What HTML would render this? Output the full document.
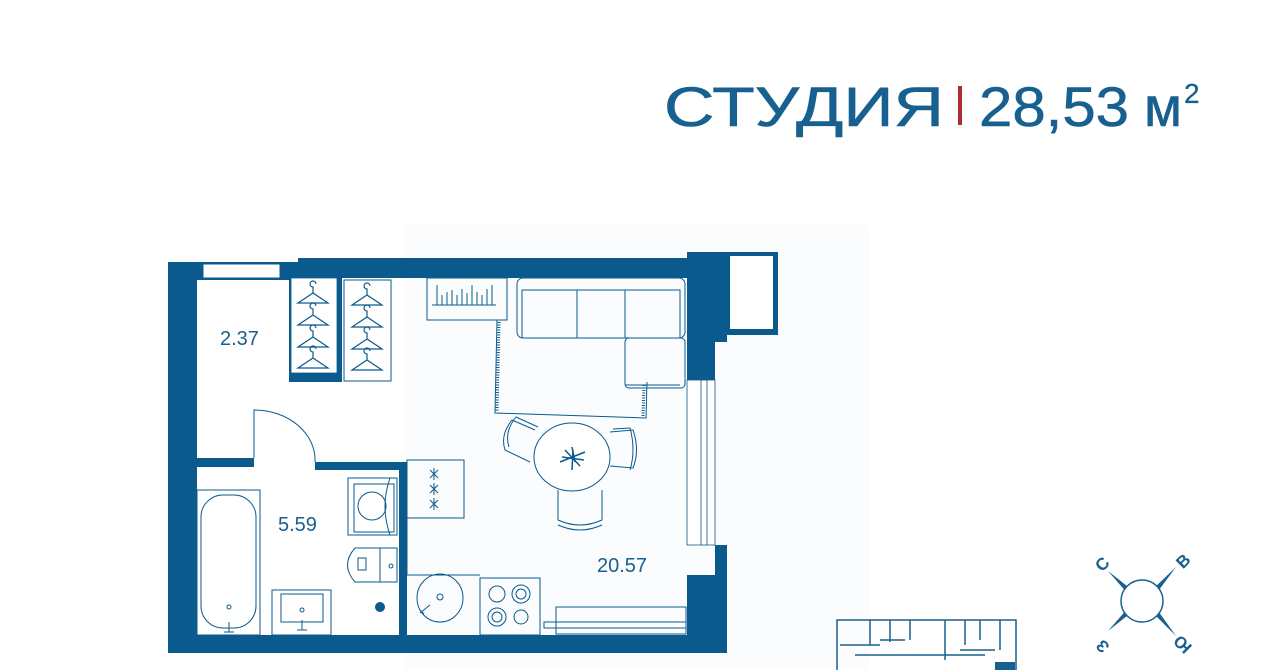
<!DOCTYPE html>
<html><head><meta charset="utf-8"><style>
html,body{margin:0;padding:0;background:#fff}
svg{display:block}
</style></head><body>
<svg width="1280" height="670" viewBox="0 0 1280 670" xmlns="http://www.w3.org/2000/svg">
<rect x="405" y="225" width="465" height="445" fill="#fafcfe"/>
<g font-family="Liberation Sans, sans-serif" fill="#17608f" stroke="#17608f" stroke-width="0.6">
<text x="664" y="126" font-size="56" textLength="280" lengthAdjust="spacingAndGlyphs">СТУДИЯ</text>
<text x="979" y="126" font-size="56" textLength="150" lengthAdjust="spacingAndGlyphs">28,53</text>
<text x="1144" y="126" font-size="56" textLength="38" lengthAdjust="spacingAndGlyphs">м</text>
<text x="1184" y="103" font-size="28" stroke-width="0.3">2</text>
</g>
<rect x="958" y="86" width="4" height="39" fill="#b22a32"/>

<g fill="#0b5a8d">
<rect x="168" y="262" width="29" height="391"/>
<rect x="168" y="262" width="130" height="18"/>
<rect x="298" y="258" width="389" height="20"/>
<rect x="687" y="252" width="28" height="128"/>
<rect x="715" y="252" width="12" height="90"/>
<rect x="715" y="545" width="12" height="108"/>
<rect x="687" y="575" width="40" height="78"/>
<rect x="168" y="635" width="559" height="18"/>
<rect x="727" y="252" width="51" height="83"/>
<rect x="289" y="278" width="53" height="104"/>
<rect x="197" y="458" width="57" height="9"/>
<rect x="315" y="462" width="90" height="8"/>
<rect x="399" y="462" width="8" height="173"/>
</g>
<rect x="203" y="264" width="77" height="14" fill="#fff" stroke="#0b5a8d" stroke-width="1"/>
<rect x="730" y="256" width="43" height="73" fill="#fff"/>
<rect x="291" y="278" width="46" height="95" fill="#fff" stroke="#0b5a8d" stroke-width="0.8"/>
<rect x="687" y="380" width="28" height="165" fill="#fff" stroke="#0b5a8d" stroke-width="0.8"/>
<line x1="701" y1="380" x2="701" y2="545" stroke="#0b5a8d" stroke-width="0.8"/>
<line x1="707" y1="380" x2="707" y2="545" stroke="#0b5a8d" stroke-width="0.8"/>

<g fill="none" stroke="#0b5a8d" stroke-width="1">
<rect x="344" y="280" width="47" height="101"/>
<g stroke-width="1.2">
<path d="M298 303 l15 -10 l15 10 z M313 293 v-6 a3 3 0 1 1 3 -3"/>
<path d="M298 325 l15 -10 l15 10 z M313 315 v-6 a3 3 0 1 1 3 -3"/>
<path d="M298 347 l15 -10 l15 10 z M313 337 v-6 a3 3 0 1 1 3 -3"/>
<path d="M298 368 l15 -10 l15 10 z M313 358 v-6 a3 3 0 1 1 3 -3"/>
<path d="M352 305 l15 -10 l15 10 z M367 295 v-6 a3 3 0 1 1 3 -3"/>
<path d="M352 327 l15 -10 l15 10 z M367 317 v-6 a3 3 0 1 1 3 -3"/>
<path d="M352 349 l15 -10 l15 10 z M367 339 v-6 a3 3 0 1 1 3 -3"/>
<path d="M352 370 l15 -10 l15 10 z M367 360 v-6 a3 3 0 1 1 3 -3"/>
</g>
<path d="M254 458 V410 A61 50 0 0 1 315 462"/>
<rect x="427" y="278" width="80" height="42"/>
<path d="M437 305 V285 M442 305 V295 M447 305 V292 M452 305 V290 M457 305 V295 M462 305 V289 M467 305 V293 M472 305 V285 M477 305 V292 M482 305 V295 M487 305 V289 M492 305 V285 M432 305 H496"/>
<path d="M497 320 L495 413 L646 418 L647 382"/>
<path d="M499 322 L497 411 M644 385 L643 416" stroke-dasharray="1 1.5" stroke-width="3"/>
<rect x="517" y="278" width="168" height="60" rx="6"/>
<rect x="522" y="290" width="158" height="48"/>
<line x1="577" y1="290" x2="577" y2="338"/><line x1="625" y1="290" x2="625" y2="338"/>
<rect x="625" y="338" width="60" height="50" rx="4"/>
<line x1="625" y1="385" x2="680" y2="385"/>
<path d="M535 430 L512 420 Q500 435 505 450 L530 462" />
<path d="M538 427 L516 417 Q504 432 509 447"/>
<path d="M610 432 L633 430 Q640 450 633 468 L610 466"/>
<path d="M613 429 L630 428 Q636 450 630 470"/>
<path d="M558 490 L558 520 Q580 530 602 520 L602 490"/>
<path d="M558 525 Q580 535 602 525"/>
<ellipse cx="572" cy="457" rx="38" ry="34" fill="#fff"/>
<path d="M572 447 L575 462 M560 462 L585 452 M565 450 L580 466 M572 470 L573 450 M562 457 L584 460" stroke-width="1.5"/>
<rect x="407" y="460" width="57" height="58"/>
<path d="M407 518 V575 H480"/>
<path d="M430 470 l8 8 m0 -8 l-8 8 M430 485 l8 8 m0 -8 l-8 8 M430 500 l8 8 m0 -8 l-8 8 M434 468 v12 M434 483 v12 M434 498 v12"/>
<ellipse cx="440" cy="598" rx="23" ry="24"/>
<circle cx="440" cy="597" r="3"/>
<path d="M430 605 l-10 8 M420 610 l4 4"/>
<rect x="480" y="578" width="60" height="57"/>
<circle cx="497" cy="594" r="8"/><circle cx="521" cy="594" r="9"/><circle cx="521" cy="594" r="5"/>
<circle cx="497" cy="617" r="9"/><circle cx="497" cy="617" r="5"/><circle cx="521" cy="617" r="7"/>
<rect x="556" y="607" width="130" height="27"/>
<rect x="544" y="622" width="142" height="6"/>
<rect x="197" y="490" width="63" height="145"/>
<rect x="201" y="495" width="55" height="133" rx="22"/>
<circle cx="229" cy="607" r="2"/><path d="M229 622 v10 M224 632 h10"/>
<rect x="348" y="478" width="49" height="57"/>
<rect x="354" y="484" width="40" height="48"/>
<circle cx="372" cy="506" r="14"/>
<path d="M390 478 q-10 28 0 57"/>
<rect x="380" y="548" width="17" height="34"/>
<path d="M380 548 H355 Q340 565 355 582 H380"/>
<path d="M358 558 h8 v12 h-8 z"/>
<circle cx="391" cy="566" r="2"/>
<rect x="272" y="590" width="59" height="45"/>
<rect x="281" y="594" width="42" height="28"/>
<circle cx="302" cy="610" r="2"/><path d="M302 620 v10 M297 630 h10"/>
</g>
<circle cx="380" cy="607" r="5" fill="#0b5a8d"/>

<g font-family="Liberation Sans, sans-serif" fill="#17608f" font-size="20">
<text x="220" y="345">2.37</text>
<text x="278" y="531">5.59</text>
<text x="597" y="572">20.57</text>
</g>

<g fill="#17608f">
<path d="M1108 571 L1132 590 L1128 594 Z"/>
<path d="M1176 567 L1152 590 L1156 594 Z"/>
<path d="M1108 631 L1132 612 L1128 608 Z"/>
<path d="M1176 636 L1152 612 L1156 608 Z"/>
<g font-family="Liberation Sans, sans-serif" font-size="17" font-weight="bold">
<text x="1096" y="570" transform="rotate(-45 1102 564)">С</text>
<text x="1177" y="567" transform="rotate(-45 1183 561)">В</text>
<text x="1096" y="652" transform="rotate(-135 1102 646)">З</text>
<text x="1175" y="651" transform="rotate(-135 1183 645)">Ю</text>
</g>
</g>
<circle cx="1142" cy="601" r="21" fill="#fff" stroke="#17608f" stroke-width="1.5"/>

<g fill="none" stroke="#17608f" stroke-width="1.5">
<rect x="837" y="620" width="179" height="60"/>
<path d="M870 620 v25 M890 620 v22 M910 620 v20 M945 620 v40 M965 620 v25 M980 620 v20 M1000 620 v30 M840 645 h40 M880 640 h25 M915 655 h40 M960 650 h35 M855 655 h130"/>
</g>
<rect x="995" y="662" width="20" height="8" fill="#17608f"/>
</svg>
</body></html>
